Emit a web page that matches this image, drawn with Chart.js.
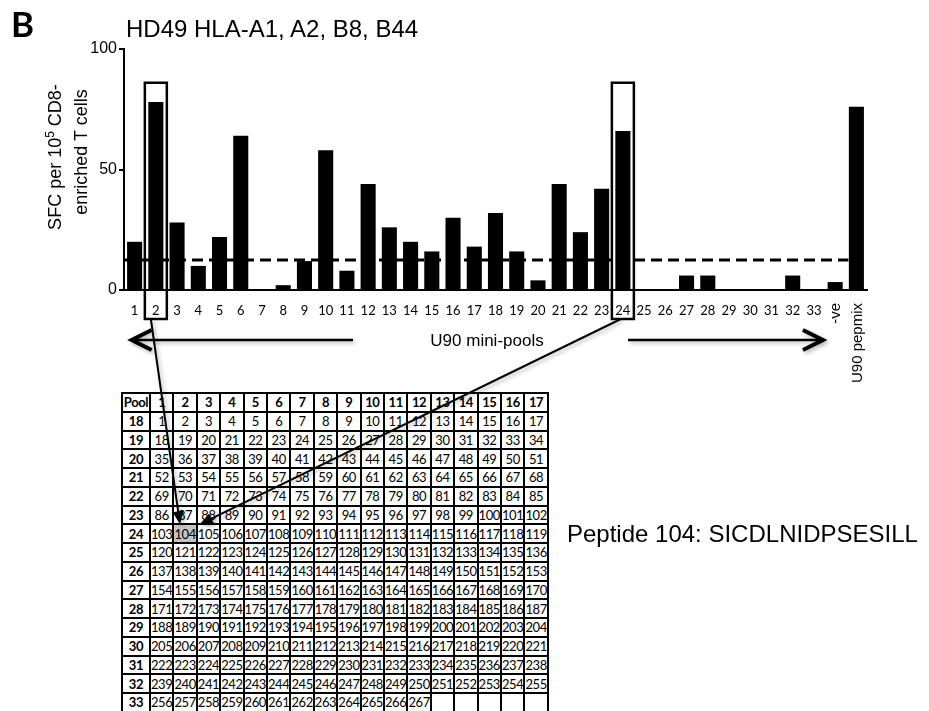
<!DOCTYPE html>
<html>
<head>
<meta charset="utf-8">
<script src="https://cdn.jsdelivr.net/npm/chart.js@4.4.1/dist/chart.umd.min.js"></script>
<style>
  html, body { margin: 0; padding: 0; background: #fff; }
  #stage { position: relative; width: 929px; height: 711px; overflow: hidden; }
  #grid { position: absolute; left: 0; top: 0; z-index: 0; }
  .cell { position: absolute; box-sizing: border-box; border: 2px solid #000; display: flex; align-items: center; justify-content: center; font: 13px Lato, sans-serif; letter-spacing: -0.4px; color: #000; }
  .cell.head { font-weight: bold; }
  .cell.hit { background: #c4c4c4; }
  #chart { position: absolute; left: 0; top: 0; z-index: 1; }
  .txt { position: absolute; z-index: 2; white-space: nowrap; color: #000; font-family: "Liberation Sans", Arial, sans-serif; line-height: 1; }
  .mid { transform: translate(-50%, -50%); }
  .rot { transform: translate(-50%, -50%) rotate(-90deg); }
</style>
</head>
<body>
<div id="stage">
  <div id="grid"></div>
  <canvas id="chart" width="929" height="711"></canvas>

  <div class="txt" style="left:11px; top:6px; font:bold 35px Lato, sans-serif; line-height:1;">B</div>
  <div class="txt" style="left:126px; top:17px; font-size:24px;">HD49 HLA-A1, A2, B8, B44</div>
  <div class="txt rot" style="left:55px; top:157px; font-size:18px;">SFC per 10<span style="font-size:12px; position:relative; top:-7px;">5</span> CD8-</div>
  <div class="txt rot" style="left:81px; top:152px; font-size:18px;">enriched T cells</div>
  <div class="txt mid" style="left:487px; top:340px; font-size:17px;">U90 mini-pools</div>
  <div class="txt" style="left:567px; top:522px; font-size:24px;">Peptide 104: SICDLNIDPSESILL</div>
</div>

<script>
// --- DONNEES ---
const poolLabels = ['1','2','3','4','5','6','7','8','9','10','11','12','13','14','15','16','17',
  '18','19','20','21','22','23','24','25','26','27','28','29','30','31','32','33','-ve','U90 pepmix'];
const sfcValues = [20, 78, 28, 10, 22, 64, 0, 2, 12, 58, 8, 44, 26, 20, 16, 30, 18,
  32, 16, 4, 44, 24, 42, 66, 0, 0, 6, 6, 0, 0, 0, 6, 0, 3.3, 76];
const cutoff = 12.4;               // seuil positif (ligne pointillee)
const highlightPools = ['2', '24'];
const highlightTop = 86;            // haut des cadres autour des pools 2 et 24

// grille des mini-pools (colonnes = pools 1-17, lignes = pools 18-33)
const gridCols = ['1','2','3','4','5','6','7','8','9','10','11','12','13','14','15','16','17'];
const gridRows = ['18','19','20','21','22','23','24','25','26','27','28','29','30','31','32','33'];
const peptideGrid = [
  [1,2,3,4,5,6,7,8,9,10,11,12,13,14,15,16,17],
  [18,19,20,21,22,23,24,25,26,27,28,29,30,31,32,33,34],
  [35,36,37,38,39,40,41,42,43,44,45,46,47,48,49,50,51],
  [52,53,54,55,56,57,58,59,60,61,62,63,64,65,66,67,68],
  [69,70,71,72,73,74,75,76,77,78,79,80,81,82,83,84,85],
  [86,87,88,89,90,91,92,93,94,95,96,97,98,99,100,101,102],
  [103,104,105,106,107,108,109,110,111,112,113,114,115,116,117,118,119],
  [120,121,122,123,124,125,126,127,128,129,130,131,132,133,134,135,136],
  [137,138,139,140,141,142,143,144,145,146,147,148,149,150,151,152,153],
  [154,155,156,157,158,159,160,161,162,163,164,165,166,167,168,169,170],
  [171,172,173,174,175,176,177,178,179,180,181,182,183,184,185,186,187],
  [188,189,190,191,192,193,194,195,196,197,198,199,200,201,202,203,204],
  [205,206,207,208,209,210,211,212,213,214,215,216,217,218,219,220,221],
  [222,223,224,225,226,227,228,229,230,231,232,233,234,235,236,237,238],
  [239,240,241,242,243,244,245,246,247,248,249,250,251,252,253,254,255],
  [256,257,258,259,260,261,262,263,264,265,266,267]
];
const hitPeptide = 104;

// --- GRILLE HTML ---
const gridLeft = 122, gridTop = 393, poolColW = 28, cellW = 23.4, cellH = 18.75;
const colEdge = i => i === 0 ? gridLeft : gridLeft + poolColW + (i - 1) * cellW;
const rowEdge = r => gridTop + r * cellH;

const grid = document.getElementById('grid');
for (let r = 0; r <= gridRows.length; r++) {
  for (let c = 0; c <= gridCols.length; c++) {
    let txt = '';
    if (r === 0) txt = c === 0 ? 'Pool' : gridCols[c - 1];
    else if (c === 0) txt = gridRows[r - 1];
    else { const v = peptideGrid[r - 1][c - 1]; txt = v === undefined ? '' : String(v); }
    const d = document.createElement('div');
    d.className = 'cell' + (r === 0 || c === 0 ? ' head' : '') + (txt === String(hitPeptide) && r > 0 && c > 0 ? ' hit' : '');
    d.style.left = (colEdge(c) - 1) + 'px';
    d.style.top = (rowEdge(r) - 1) + 'px';
    d.style.width = (colEdge(c + 1) - colEdge(c) + 2) + 'px';
    d.style.height = (cellH + 2) + 'px';
    d.textContent = txt;
    grid.appendChild(d);
  }
}

// --- FLECHES / CADRES ---
function arrowHead(ctx, x0, y0, x1, y1, len, half) {
  const a = Math.atan2(y1 - y0, x1 - x0);
  const bx = x1 - len * Math.cos(a), by = y1 - len * Math.sin(a);
  ctx.beginPath();
  ctx.moveTo(x1, y1);
  ctx.lineTo(bx + half * Math.sin(a), by - half * Math.cos(a));
  ctx.lineTo(bx - half * Math.sin(a), by + half * Math.cos(a));
  ctx.closePath();
  ctx.fill();
}

const markup = {
  id: 'markup',
  afterDatasetsDraw(chart) {
    const { ctx, chartArea, scales: { x, y } } = chart;
    const yc = y.getPixelForValue(cutoff);
    ctx.save();
    ctx.strokeStyle = '#000';
    ctx.lineWidth = 3;
    ctx.setLineDash([11, 6]);
    ctx.beginPath();
    ctx.moveTo(chartArea.left, yc);
    ctx.lineTo(x.getPixelForValue(poolLabels.length - 1) - 8, yc);
    ctx.stroke();
    ctx.restore();
  },
  afterDraw(chart) {
    const { ctx, scales: { x, y } } = chart;
    ctx.save();
    ctx.fillStyle = '#000';
    ctx.strokeStyle = '#000';

    // labels verticaux (-ve, U90 pepmix)
    ctx.font = '15px "Liberation Sans", Arial, sans-serif';
    ctx.textAlign = 'right';
    ctx.textBaseline = 'middle';
    [33, 34].forEach(i => {
      ctx.save();
      ctx.translate(x.getPixelForValue(i) + 1, 303);
      ctx.rotate(-Math.PI / 2);
      ctx.fillText(poolLabels[i], 0, 0);
      ctx.restore();
    });

    // cadres autour des pools positifs
    const boxBottom = 319;
    ctx.lineWidth = 2.5;
    const starts = [];
    highlightPools.forEach(p => {
      const cx = x.getPixelForValue(poolLabels.indexOf(p));
      const top = y.getPixelForValue(highlightTop);
      ctx.strokeRect(cx - 11, top, 22, boxBottom - top);
      starts.push(cx);
    });

    // grandes fleches "U90 mini-pools"
    ctx.shadowColor = 'rgba(0,0,0,0.3)';
    ctx.shadowBlur = 4;
    ctx.shadowOffsetX = 2;
    ctx.shadowOffsetY = 2;
    const ya = 340;
    const lt = x.getPixelForValue(0) - 3, rt = x.getPixelForValue(32) + 9;
    ctx.lineWidth = 2.5;
    ctx.beginPath();
    ctx.moveTo(353, ya); ctx.lineTo(lt + 2, ya);
    ctx.moveTo(628, ya); ctx.lineTo(rt - 2, ya);
    ctx.stroke();
    ctx.lineWidth = 4;
    ctx.lineJoin = 'miter';
    ctx.beginPath();
    ctx.moveTo(lt + 20, ya - 10); ctx.lineTo(lt, ya); ctx.lineTo(lt + 20, ya + 10);
    ctx.moveTo(rt - 20, ya - 10); ctx.lineTo(rt, ya); ctx.lineTo(rt - 20, ya + 10);
    ctx.stroke();

    // fleches vers le peptide 104
    const cellX = colEdge(2), cellY = rowEdge(gridRows.indexOf('24') + 1);
    const tips = [[cellX + 6.6, cellY], [cellX + cellW + 3, cellY]];
    const from = [[starts[0] - 5, boxBottom], [starts[1] - 2, boxBottom]];
    ctx.lineWidth = 2;
    from.forEach((f, i) => {
      const t = tips[i];
      const a = Math.atan2(t[1] - f[1], t[0] - f[0]);
      ctx.beginPath();
      ctx.moveTo(f[0], f[1]);
      ctx.lineTo(t[0] - 10 * Math.cos(a), t[1] - 10 * Math.sin(a));
      ctx.stroke();
      arrowHead(ctx, f[0], f[1], t[0], t[1], 13, 5.5);
    });
    ctx.restore();
  }
};

Chart.defaults.color = '#000';
Chart.defaults.font.family = '"Liberation Sans", Arial, sans-serif';

new Chart(document.getElementById('chart'), {
  type: 'bar',
  data: {
    labels: poolLabels,
    datasets: [{
      data: sfcValues,
      backgroundColor: '#000',
      borderWidth: 0,
      barPercentage: 0.71,
      categoryPercentage: 1
    }]
  },
  options: {
    responsive: false,
    animation: false,
    devicePixelRatio: 1,
    layout: { padding: { left: 0, top: 49, right: 62, bottom: 0 } },
    plugins: { legend: { display: false }, tooltip: { enabled: false }, title: { display: false } },
    scales: {
      x: {
        grid: { display: false, drawTicks: false },
        border: { display: true, color: '#000', width: 2 },
        ticks: {
          autoSkip: false, maxRotation: 0, minRotation: 0, padding: 13,
          font: { family: 'Lato, sans-serif', size: 13 },
          callback: function (v, i) { return i < 33 ? this.getLabelForValue(v) : ''; }
        },
        afterFit: s => { s.height = 421; }
      },
      y: {
        min: 0, max: 100,
        grid: { display: true, drawOnChartArea: false, drawTicks: true, tickLength: 5, color: '#000', lineWidth: 2 },
        border: { color: '#000', width: 2 },
        ticks: { stepSize: 50, padding: 2, font: { size: 16 } },
        afterFit: s => { s.width = 124; }
      }
    }
  },
  plugins: [markup]
});
</script>
</body>
</html>
